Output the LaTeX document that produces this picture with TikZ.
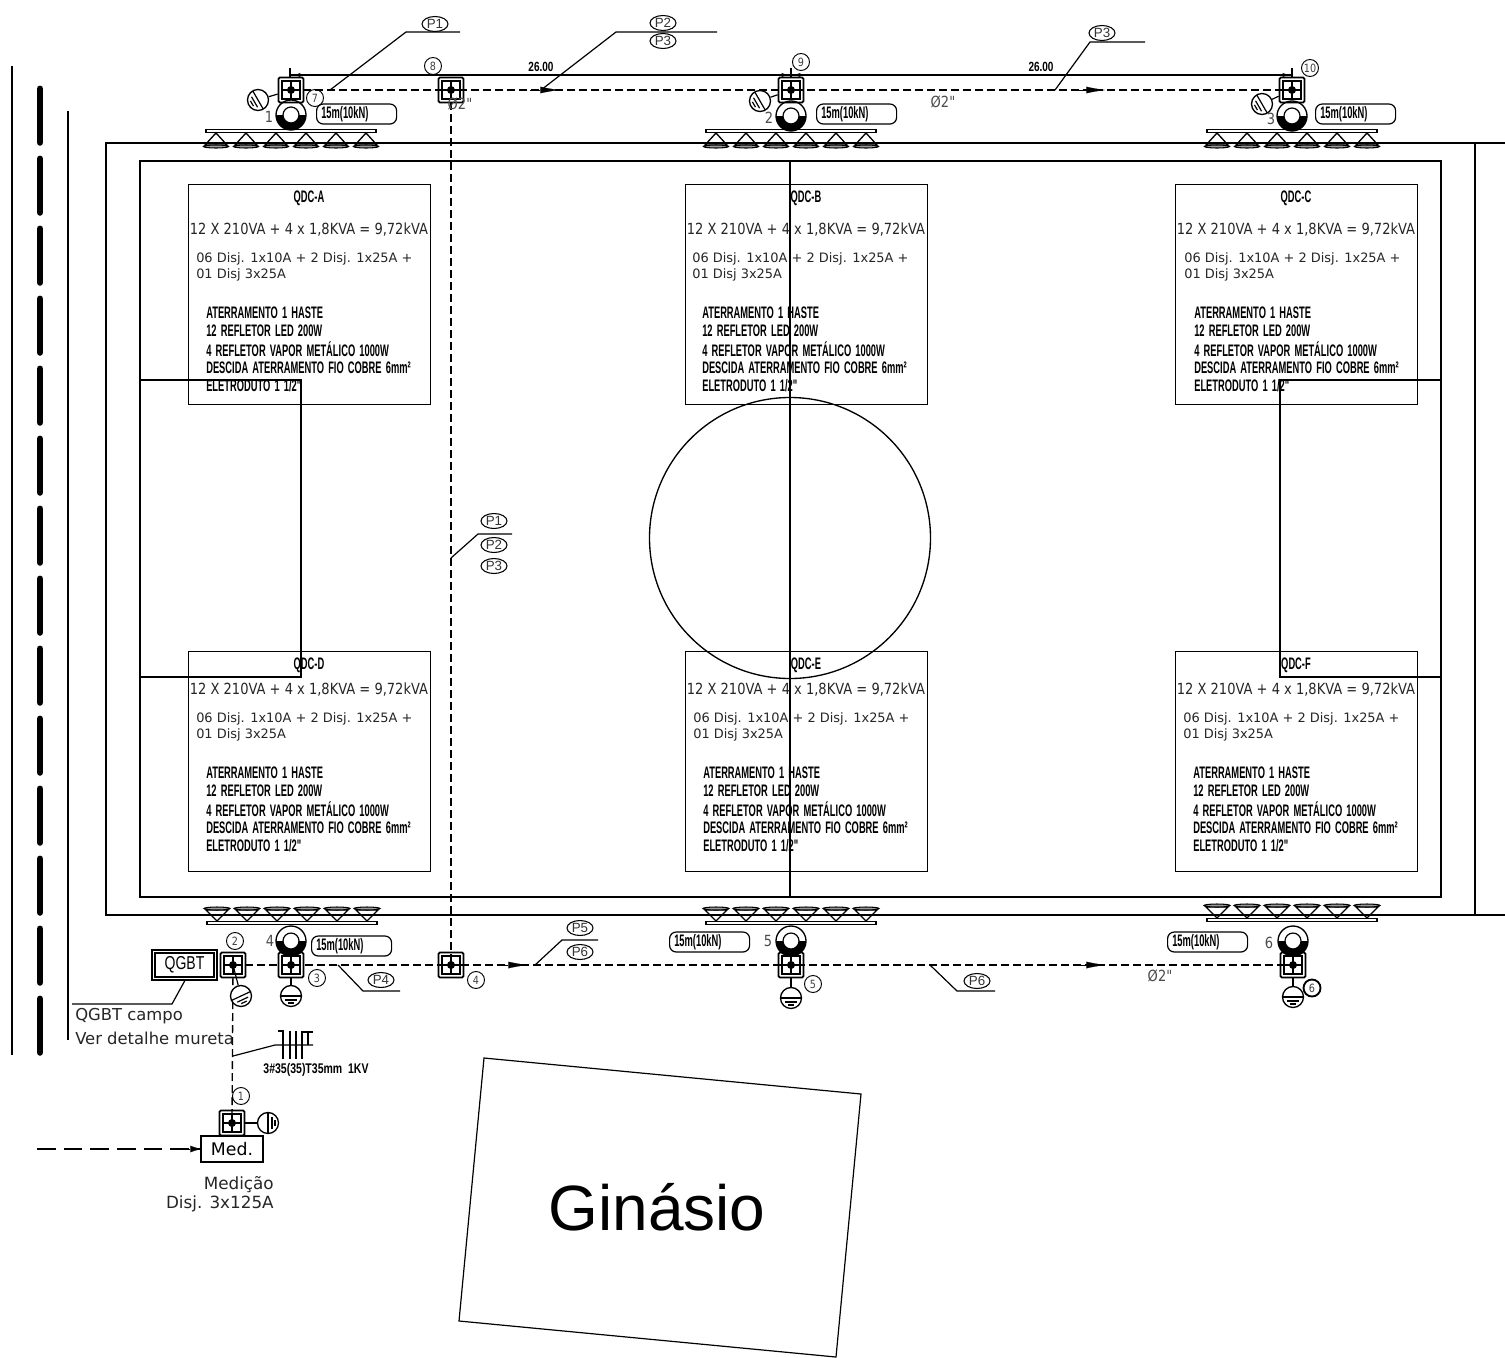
\documentclass[tikz,border=0pt]{standalone}
\usepackage{fontspec}
\usetikzlibrary{arrows.meta,shapes.geometric}
\setmainfont{Liberation Sans}
\newfontfamily\cadf[FakeStretch=0.56,WordSpace=1.6]{Liberation Sans}
\newfontfamily\cadw[FakeStretch=0.75]{Liberation Sans}
\newfontfamily\vera{DejaVu Sans}
\newfontfamily\verc[FakeStretch=0.85]{DejaVu Sans}
\def\u{0.75pt}
\tikzset{
  thinl/.style={line width=0.9pt},
  field/.style={line width=1pt},
  dashl/.style={line width=1pt,dash pattern=on 6pt off 3pt},
  dashlong/.style={line width=1pt,dash pattern=on 14pt off 6pt},
  arrowtip/.style={line width=0.1pt,-{Latex[length=14pt,width=5pt]}},
  arrowsmall/.style={line width=0.1pt,-{Latex[length=8pt,width=5pt]}},
  dimarrow/.style={line width=1.2pt,-{Latex[length=7pt,width=3pt]}},
  juncbox/.style={draw,line width=1.3pt,rounded corners=1pt,minimum size=25*\u,inner sep=0pt},
  numc/.style={circle,draw,line width=0.7pt,minimum size=17*\u,inner sep=0pt,font=\verc\fontsize{8.5}{8.5}\selectfont,text=black!75},
  pell/.style={ellipse,draw,line width=0.8pt,minimum width=26*\u,minimum height=15*\u,inner sep=0pt,font=\fontsize{10}{10}\selectfont,text=black!80},
  tagbox/.style={draw,line width=0.9pt,rounded corners=5pt,minimum width=80*\u,minimum height=20*\u,inner sep=0pt},
  gndc/.style={circle,draw,line width=1pt,minimum size=21*\u,inner sep=0pt,fill=white},
  cadtxt/.style={inner sep=0pt,font=\cadf\bfseries\fontsize{12.5}{12.5}\selectfont},
  vertxt/.style={inner sep=0pt,font=\vera\fontsize{9.7}{9.7}\selectfont,text=black!85},
  sumtxt/.style={inner sep=0pt,font=\verc\fontsize{11.5}{11.5}\selectfont,text=black!85},
  plabel/.style={inner sep=0pt,font=\verc\fontsize{11.5}{11.5}\selectfont,text=black!70},
  wtext/.style={inner sep=0pt,font=\cadw\bfseries\fontsize{10}{10}\selectfont},
}
\newcommand\qdcbox[8]{%
  \node[draw,line width=1.1pt,minimum width=242*\u,minimum height=220*\u,inner sep=0pt,anchor=north west] (#1) at (#2,#3) {};
  \begin{scope}[shift={(#2,#3)}]
    \node[cadtxt] (#1t) at (121,14) {#4};
    \node[sumtxt] (#1s) at (121,#8) {12 X 210VA + 4 x 1,8KVA = 9,72kVA};
    \node[vertxt,anchor=west] (#1a) at (#5,{75-#7}) {06 Disj. 1x10A + 2 Disj. 1x25A +};
    \node[vertxt,anchor=west] (#1b) at (#5,{91-#7}) {01 Disj 3x25A};
    \node[cadtxt,anchor=west] (#1c) at (#6,{129-#7}) {ATERRAMENTO 1 HASTE};
    \node[cadtxt,anchor=west] (#1d) at (#6,{147-#7}) {12 REFLETOR LED 200W};
    \node[cadtxt,anchor=west] (#1e) at (#6,{165-#7}) {4 REFLETOR VAPOR METÁLICO 1000W};
    \node[cadtxt,anchor=west] (#1f) at (#6,{184-#7}) {DESCIDA ATERRAMENTO FIO COBRE 6mm²};
    \node[cadtxt,anchor=west] (#1g) at (#6,{202-#7}) {ELETRODUTO 1 1/2"};
  \end{scope}}
\newcommand\junc[3]{%
  \node[juncbox] (#1) at (#2,#3) {};
  \draw[thinl] (#2-9,#3-9) rectangle (#2+9,#3+9);
  \draw[thinl] (#2-9,#3) -- (#2+9,#3) (#2,#3-9) -- (#2,#3+9);
  \fill (#2,#3) circle[radius=4];}
\newcommand\poleN[3]{%
  \node[circle,draw,line width=1pt,minimum size=30*\u,inner sep=0pt] (#1) at (#2,#3) {};
  \fill (#2-15,#3) arc[start angle=180,end angle=0,radius=15] -- cycle;
  \fill[white] (#2,#3) circle[radius=8];
  \draw[thinl] (#2,#3) circle[radius=8];}
\newcommand\gnd[4]{%
  \node[gndc] (#1) at (#2,#3) {};
  \begin{scope}[shift={(#2,#3)},rotate=#4]
    \draw[thinl] (-10,0) -- (10,0) (-6,4) -- (6,4) (-3,7) -- (3,7);
  \end{scope}}
\newcommand\lampsup[2]{%
  \draw[line width=0.9pt] (#1,#2-1.8) rectangle (#1+170,#2+1.8);
  \foreach \k in {0,...,5}{
    \draw[line width=1pt] (#1+10+30*\k,#2+2) -- (#1-1+30*\k,#2+14) -- (#1+21+30*\k,#2+14) -- cycle;
    \draw[line width=0.8pt,fill=black!40] (#1+10+30*\k,#2+15.5) ellipse[x radius=12.5,y radius=1.5];}}
\newcommand\lampsdn[2]{%
  \draw[line width=0.9pt] (#1,#2-1.8) rectangle (#1+170,#2+1.8);
  \foreach \k in {0,...,5}{
    \draw[line width=1pt] (#1+10+30*\k,#2-2) -- (#1-1+30*\k,#2-13) -- (#1+21+30*\k,#2-13) -- cycle;
    \draw[line width=0.8pt,fill=black!40] (#1+10+30*\k,#2-14.5) ellipse[x radius=13,y radius=1.5];}}
\newcommand\tagb[4]{%
  \node[tagbox,anchor=west,text width=76*\u,align=left,font=\cadf\bfseries\fontsize{12.5}{12.5}\selectfont] (#1) at (#2,#3) {\hspace*{2pt}#4};}
\begin{document}
\begin{tikzpicture}[x=0.75pt,y=-0.75pt,line cap=butt]
\useasboundingbox (0,0) rectangle (1505,1357);
\fill[white] (0,0) rectangle (1505,1357);
% left road
\draw[thinl] (12,66) -- (12,1055);
\draw[line width=5.2pt,line cap=round,dash pattern=on 40pt off 12.5pt] (40,89) -- (40,1056);
\draw[thinl] (68,111) -- (68,1040);
% field
\draw[field] (1505,143) -- (106,143) -- (106,915) -- (1505,915);
\draw[field] (1475,143) -- (1475,915);
\draw[field] (140,161) rectangle (1441,897);
\draw[field] (140,380) -- (301,380) -- (301,677) -- (140,677);
\draw[field] (1441,380) -- (1280,380) -- (1280,677) -- (1441,677);
\draw[field] (790,161) -- (790,897);
\node[circle,draw,field,minimum size=281*\u,inner sep=0pt] (cc) at (790,538) {};
% boxes
\qdcbox{qa}{188}{184}{QDC-A}{8}{18}{0}{46}
\qdcbox{qb}{685}{184}{QDC-B}{7}{17}{0}{46}
\qdcbox{qc}{1175}{184}{QDC-C}{9}{19}{0}{46}
\qdcbox{qd}{188}{651}{QDC-D}{8}{18}{7}{39}
\qdcbox{qe}{685}{651}{QDC-E}{8}{18}{7}{39}
\qdcbox{qf}{1175}{651}{QDC-F}{8}{18}{7}{39}
% lamps
\lampsup{206}{131}
\lampsup{706}{131}
\lampsup{1207}{131}
\lampsdn{207}{923}
\lampsdn{706}{923}
\lampsdn{1207}{920}
% poles
\poleN{p1}{291}{115}
\poleN{p2}{791}{116}
\poleN{p3}{1292}{116}
\poleN{p4}{291}{941}
\poleN{p5}{791}{941}
\poleN{p6}{1293}{941}
\node[plabel] (l1) at (269,117) {1};
\node[plabel] (l2) at (769,118) {2};
\node[plabel] (l3) at (1271,119) {3};
\node[plabel] (l4) at (270,941) {4};
\node[plabel] (l5) at (768,941) {5};
\node[plabel] (l6) at (1269,943) {6};
% junction boxes
\junc{j1}{291}{90}
\junc{j8}{451}{90}
\junc{j2}{791}{90}
\junc{j3}{1292}{90}
\junc{jq}{233}{965}
\junc{j4}{291}{965}
\junc{jm}{451}{965}
\junc{j5}{791}{965}
\junc{j6}{1293}{965}
\junc{jx}{232}{1123}
% QGBT and meter
\node[draw,line width=1.4pt,double,double distance=0.8pt,minimum width=62*\u,minimum height=27*\u,inner sep=0pt,font=\cadw\fontsize{14}{14}\selectfont] (qgbt) at (184.5,965) {QGBT};
\node[draw,thinl,minimum width=62*\u,minimum height=26*\u,inner sep=0pt,font=\vera\fontsize{13}{13}\selectfont,fill=white] (med) at (232,1149) {Med.};
% dashed runs
\draw[dashl] (j1.center) -- (j8.center) -- (j2.center) -- (j3.center);
\draw[dashl] (j8.center) -- (jm.center);
\draw[dashl] (jq.center) -- (j4.center) -- (jm.center) -- (j5.center) -- (j6.center);
\draw[dashl] (jq.center) -- (jx.center);
\coordinate (src) at (37,1149);
\draw[dashlong] (src) -- (med.west);
\coordinate (a1s) at (530,90); \coordinate (a1e) at (559,90);
\coordinate (a2s) at (1075,90); \coordinate (a2e) at (1105,90);
\coordinate (a3s) at (500,965); \coordinate (a3e) at (527,965);
\coordinate (a4s) at (1075,965); \coordinate (a4e) at (1105,965);
\coordinate (a5s) at (180,1149); \coordinate (a5e) at (201,1149);
\foreach \s/\e in {a1s/a1e,a2s/a2e,a3s/a3e,a4s/a4e}{\draw[arrowtip] (\s) -- (\e);}
\draw[arrowsmall] (a5s) -- (a5e);
% dimension line
\coordinate (d0) at (291,75); \coordinate (d1) at (791,75); \coordinate (d2) at (1292,75);
\draw[line width=1.2pt] (d0) -- (d2);
\draw[thinl] (290,68) -- (290,77) (791,68) -- (791,77) (1292,68) -- (1292,77);
\draw[dimarrow] (305,75) -- (d0);
\draw[dimarrow] (777,75) -- (d1);
\draw[dimarrow] (805,75) -- (d1);
\draw[dimarrow] (1278,75) -- (d2);
\node[wtext] (dt1) at (541,67) {26.00};
\node[wtext] (dt2) at (1041,67) {26.00};
% tags
\tagb{t1}{316}{114}{15m(10kN)}
\tagb{t2}{816}{114}{15m(10kN)}
\tagb{t3}{1315}{114}{15m(10kN)}
\tagb{t4}{311}{946}{15m(10kN)}
\tagb{t5}{669}{942}{15m(10kN)}
\tagb{t6}{1167}{942}{15m(10kN)}
% grounds
\gnd{g1}{258}{100}{-60}
\gnd{g2}{760}{101}{-60}
\gnd{g3}{1262}{104}{-60}
\gnd{g4}{241}{996}{25}
\gnd{g5}{291}{996}{0}
\gnd{g6}{791}{998}{0}
\gnd{g7}{1293}{997}{0}
\gnd{g8}{268}{1123}{90}
\draw[thinl] (j1) -- (g1);
\draw[thinl] (j2) -- (g2);
\draw[thinl] (j3) -- (g3);
\draw[thinl] (jq.center) -- (g4);
\draw[thinl] (j4) -- (g5);
\draw[thinl] (j5) -- (g6);
\draw[thinl] (j6) -- (g7);
\draw[thinl] (jx) -- (g8);
% circled numbers
\node[numc] (n7) at (315,98) {7};
\node[numc] (n8) at (433,66) {8};
\node[numc] (n9) at (801,62) {9};
\node[numc] (n10) at (1310,68) {10};
\node[numc] (n2) at (235,941) {2};
\node[numc] (n3) at (317,978) {3};
\node[numc] (n4) at (476,980) {4};
\node[numc] (n5) at (813,984) {5};
\node[numc,line width=1.4pt] (n6) at (1312,988) {6};
\node[numc] (n1) at (241,1096) {1};
% callouts
\node[pell] (e1) at (435,24) {P1};
\coordinate (c1a) at (330,90); \coordinate (c1b) at (406,32); \coordinate (c1c) at (460,32);
\draw[thinl] (c1a) -- (c1b) -- (c1c);
\node[pell] (e2) at (663,23) {P2};
\node[pell] (e3) at (663,41) {P3};
\coordinate (c2a) at (541,90); \coordinate (c2b) at (616,32); \coordinate (c2c) at (717,32);
\draw[thinl] (c2a) -- (c2b) -- (c2c);
\node[pell] (e4) at (1102,33) {P3};
\coordinate (c3a) at (1055,90); \coordinate (c3b) at (1090,42); \coordinate (c3c) at (1145,42);
\draw[thinl] (c3a) -- (c3b) -- (c3c);
\node[pell] (e5) at (494,521) {P1};
\node[pell] (e6) at (494,545) {P2};
\node[pell] (e7) at (494,566) {P3};
\coordinate (c4a) at (451,558); \coordinate (c4b) at (478,534); \coordinate (c4c) at (512,534);
\draw[thinl] (c4a) -- (c4b) -- (c4c);
\node[pell] (e8) at (580,928) {P5};
\node[pell] (e9) at (580,952) {P6};
\coordinate (c5a) at (535,965); \coordinate (c5b) at (562,940); \coordinate (c5c) at (598,940);
\draw[thinl] (c5a) -- (c5b) -- (c5c);
\node[pell] (e10) at (381,980) {P4};
\coordinate (c6a) at (338,965); \coordinate (c6b) at (363,991); \coordinate (c6c) at (400,991);
\draw[thinl] (c6a) -- (c6b) -- (c6c);
\node[pell] (e11) at (977,981) {P6};
\coordinate (c7a) at (930,965); \coordinate (c7b) at (957,991); \coordinate (c7c) at (995,991);
\draw[thinl] (c7a) -- (c7b) -- (c7c);
% pipe diameters
\node[plabel] (o1) at (460,104) {Ø2"};
\node[plabel] (o2) at (943,102) {Ø2"};
\node[plabel] (o3) at (1160,976) {Ø2"};
% QGBT note
\coordinate (q1) at (172,1004); \coordinate (q2) at (72,1004);
\draw[thinl] (qgbt.south) ++(1,0) -- (q1) -- (q2);
\node[vertxt,font=\vera\fontsize{12.3}{12.3}\selectfont,anchor=west] (qn1) at (75,1016) {QGBT campo};
\node[vertxt,font=\vera\fontsize{12.3}{12.3}\selectfont,anchor=west] (qn2) at (75,1038) {Ver detalhe mureta};
% conductor ticks
\coordinate (w1) at (233,1056); \coordinate (w2) at (275,1045); \coordinate (w3) at (313,1045);
\draw[thinl] (w1) -- (w2) -- (w3);
\draw[line width=1.1pt] (278,1031) -- (283,1031) -- (283,1059) (290,1031) -- (290,1059) (296,1031) -- (296,1059) (302,1031) -- (302,1059) (303,1032) -- (313,1032) (308,1032) -- (308,1045);
\node[wtext,font=\cadw\bfseries\fontsize{10.5}{10.5}\selectfont] (wt) at (316,1070) {3\#35(35)T35mm\ \ 1KV};
% meter note
\node[vertxt,font=\vera\fontsize{12.6}{12.6}\selectfont,anchor=east] (mn1) at (274,1185) {Medição};
\node[vertxt,font=\vera\fontsize{12.6}{12.6}\selectfont,anchor=east] (mn2) at (274,1204) {Disj. 3x125A};
% building
\draw[thinl] (484,1058) -- (861,1094) -- (836,1357) -- (459,1321) -- cycle;
\node[inner sep=0pt,font=\fontsize{48}{48}\selectfont] (gin) at (657,1207) {Ginásio};
\end{tikzpicture}
\end{document}
